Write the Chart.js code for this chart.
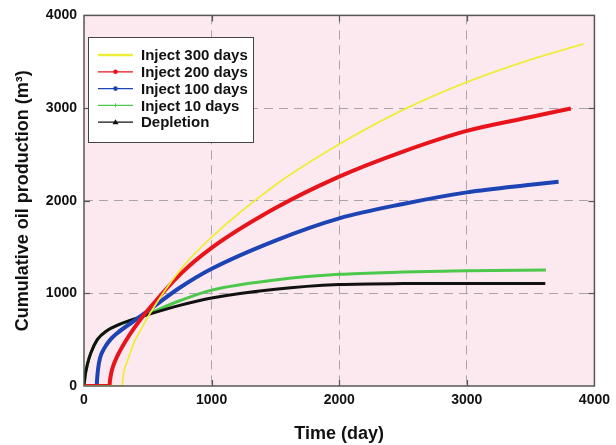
<!DOCTYPE html>
<html>
<head>
<meta charset="utf-8">
<script src="https://cdn.jsdelivr.net/npm/chart.js@4.4.0/dist/chart.umd.min.js"></script>
<style>
  html, body { margin: 0; padding: 0; background: #ffffff; }
  #wrap { width: 616px; height: 445px; position: relative; }
</style>
</head>
<body>
<div id="wrap"><canvas id="c" width="616" height="445"></canvas></div>
<script>
// ---- data ----
const seriesLabels = ['Inject 300 days', 'Inject 200 days', 'Inject 100 days', 'Inject 10 days', 'Depletion'];

const inj300T = [0, 300, 303, 312, 340, 390, 450, 500, 750, 1000, 1500, 2000, 2500, 3000, 3500, 3914];
const inj300V = [0, 0, 60, 150, 270, 459, 620, 745, 1247, 1606, 2170, 2609, 2980, 3280, 3523, 3692];

const inj200T = [0, 200, 203, 212, 225, 260, 333, 390, 500, 750, 1000, 1500, 2000, 2500, 3000, 3500, 3815];
const inj200V = [0, 0, 50, 130, 200, 320, 500, 620, 817, 1200, 1490, 1920, 2260, 2530, 2753, 2903, 2996];

const inj100T = [0, 100, 102, 110, 125, 156, 203, 260, 390, 500, 750, 1000, 1500, 2000, 2500, 3000, 3500, 3719];
const inj100V = [0, 0, 60, 180, 300, 400, 495, 570, 700, 810, 1060, 1265, 1570, 1810, 1965, 2090, 2172, 2204];

const inj10T = [0, 10, 26, 52, 104, 182, 260, 390, 500, 750, 1000, 1500, 2000, 2500, 3000, 3620];
const inj10V = [0, 120, 230, 350, 500, 600, 655, 722, 780, 920, 1035, 1145, 1205, 1230, 1245, 1252];

const deplT = [0, 10, 26, 52, 104, 182, 260, 390, 500, 750, 1000, 1500, 2000, 2500, 3000, 3615];
const deplV = [0, 120, 230, 350, 500, 600, 655, 722, 770, 870, 950, 1045, 1095, 1105, 1106, 1106];

const xTicks = [0, 1000, 2000, 3000, 4000];
const yTicks = [0, 1000, 2000, 3000, 4000];

// ---- styles ----
const colors = ['#eeee3a', '#e8141c', '#1c44b4', '#4cc84c', '#111111'];
const widths = [1.8, 4, 4, 3, 3];
const markers = [null, 'circle', 'circle', 'cross', 'triangle'];
const drawOrder = [0, 1, 2, 4, 3];

function pts(t, v) { return t.map((x, i) => ({ x: x, y: v[i] })); }
const seriesData = [pts(inj300T, inj300V), pts(inj200T, inj200V), pts(inj100T, inj100V), pts(inj10T, inj10V), pts(deplT, deplV)];

const datasets = seriesLabels.map((lab, i) => ({
  label: lab,
  data: seriesData[i],
  borderColor: colors[i],
  backgroundColor: colors[i],
  borderWidth: widths[i],
  pointRadius: 0,
  fill: false,
  cubicInterpolationMode: 'monotone',
  order: drawOrder[i]
}));

const FONT = '"Liberation Sans", Arial, sans-serif';

const bgPlugin = {
  id: 'bg',
  beforeDraw(chart) {
    const a = chart.chartArea, ctx = chart.ctx;
    ctx.save();
    ctx.fillStyle = '#fce9f0';
    ctx.fillRect(a.left, a.top, a.right - a.left, a.bottom - a.top);
    ctx.restore();
  },
  afterDatasetsDraw(chart) {
    const a = chart.chartArea, ctx = chart.ctx;
    const xs = chart.scales.x, ys = chart.scales.y;
    ctx.save();
    ctx.strokeStyle = '#555555';
    ctx.lineWidth = 1.2;
    xTicks.slice(1, -1).forEach(v => {
      const px = Math.round(xs.getPixelForValue(v)) + 0.5;
      ctx.beginPath(); ctx.moveTo(px, a.bottom); ctx.lineTo(px, a.bottom - 6); ctx.stroke();
      ctx.beginPath(); ctx.moveTo(px, a.top); ctx.lineTo(px, a.top + 6); ctx.stroke();
    });
    yTicks.slice(1, -1).forEach(v => {
      const py = Math.round(ys.getPixelForValue(v)) + 0.5;
      ctx.beginPath(); ctx.moveTo(a.left, py); ctx.lineTo(a.left + 6, py); ctx.stroke();
      ctx.beginPath(); ctx.moveTo(a.right, py); ctx.lineTo(a.right - 6, py); ctx.stroke();
    });
    ctx.strokeStyle = '#555555';
    ctx.lineWidth = 1.5;
    ctx.strokeRect(a.left, a.top, a.right - a.left, a.bottom - a.top);

    // legend
    const bx = 88, by = 37, bw = 165, bh = 105;
    ctx.fillStyle = '#ffffff';
    ctx.fillRect(bx, by, bw, bh);
    ctx.strokeStyle = '#444444';
    ctx.lineWidth = 1;
    ctx.strokeRect(bx + 0.5, by + 0.5, bw, bh);
    ctx.font = 'bold 15px ' + FONT;
    ctx.textBaseline = 'middle';
    ctx.textAlign = 'left';
    chart.data.datasets.forEach((ds, i) => {
      const y = by + 18 + i * 16.8;
      ctx.strokeStyle = ds.borderColor;
      ctx.lineWidth = i === 0 ? 2.5 : 1.3;
      ctx.beginPath(); ctx.moveTo(98, y); ctx.lineTo(133, y); ctx.stroke();
      const m = markers[i];
      ctx.fillStyle = ds.borderColor;
      if (m === 'circle') {
        ctx.beginPath(); ctx.arc(115.5, y, 2.3, 0, Math.PI * 2); ctx.fill();
      } else if (m === 'triangle') {
        ctx.beginPath(); ctx.moveTo(115.5, y - 3); ctx.lineTo(118.5, y + 2); ctx.lineTo(112.5, y + 2); ctx.closePath(); ctx.fill();
      } else if (m === 'cross') {
        ctx.lineWidth = 1; ctx.beginPath(); ctx.moveTo(115.5, y - 2); ctx.lineTo(115.5, y + 2); ctx.stroke();
      }
      ctx.fillStyle = '#111111';
      ctx.fillText(ds.label, 141, y + 1);
    });
    ctx.restore();
  }
};

const gridColor = ctx => (ctx.tick && (ctx.tick.value === 0 || ctx.tick.value === 4000)) ? 'rgba(0,0,0,0)' : '#aaa3ad';

new Chart(document.getElementById('c'), {
  type: 'line',
  data: { datasets: datasets },
  plugins: [bgPlugin],
  options: {
    responsive: false,
    animation: false,
    events: [],
    layout: { padding: { top: 14, right: 20, left: 0, bottom: 0 } },
    plugins: { legend: { display: false }, tooltip: { enabled: false } },
    scales: {
      x: {
        type: 'linear', min: 0, max: 4000,
        afterBuildTicks(s) { s.ticks = xTicks.map(v => ({ value: v })); },
        afterFit(s) { s.height = 59; },
        ticks: { color: '#111', font: { family: FONT, size: 14, weight: 'bold' }, padding: 6, maxRotation: 0, callback: v => String(v) },
        grid: { drawTicks: false, color: gridColor, lineWidth: 1 },
        border: { display: false, dash: [9, 6] },
        title: { display: true, text: 'Time (day)', color: '#111', font: { family: FONT, size: 18, weight: 'bold' }, padding: { top: 10, bottom: 0 } }
      },
      y: {
        type: 'linear', min: 0, max: 4000,
        afterBuildTicks(s) { s.ticks = yTicks.map(v => ({ value: v })); },
        afterFit(s) { s.width = 84; },
        ticks: { color: '#111', font: { family: FONT, size: 14, weight: 'bold' }, padding: 7, callback: v => String(v) },
        grid: { drawTicks: false, color: gridColor, lineWidth: 1 },
        border: { display: false, dash: [9, 6] },
        title: { display: true, text: 'Cumulative oil production (m³)', color: '#111', font: { family: FONT, size: 18, weight: 'bold' }, padding: { top: 12, bottom: 4 } }
      }
    }
  }
});
</script>
</body>
</html>
